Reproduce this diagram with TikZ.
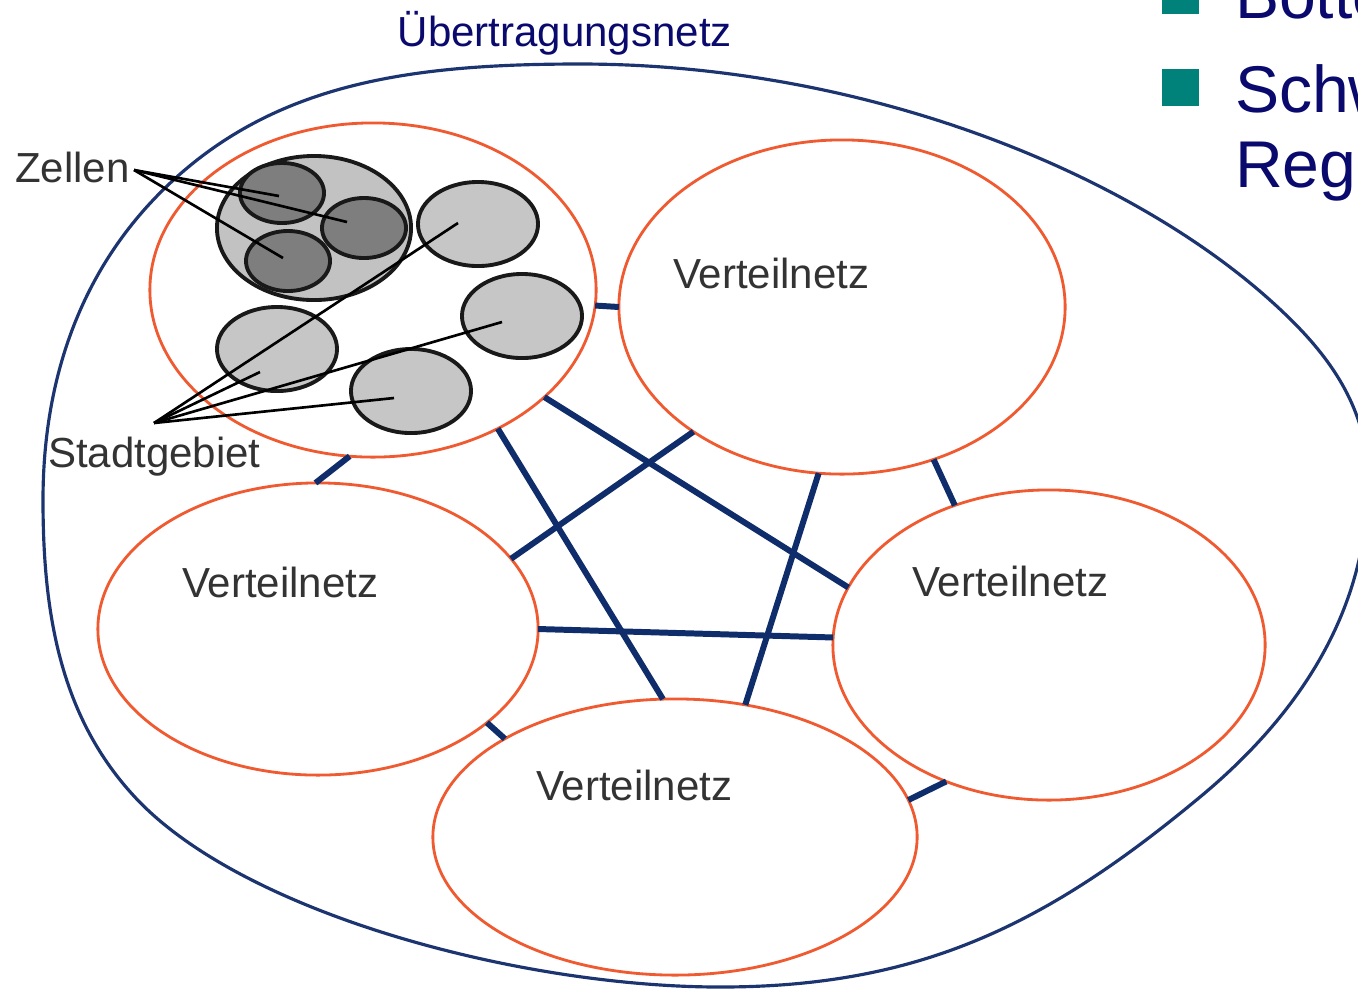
\documentclass[tikz,border=0pt]{standalone}
\usepackage{fontspec}
\setmainfont{Liberation Sans}
\usetikzlibrary{shapes.geometric,calc}
\definecolor{netred}{HTML}{F05A30}
\definecolor{outerblue}{HTML}{1C3470}
\definecolor{linkblue}{HTML}{0F2D6B}
\definecolor{navytext}{HTML}{0A0A6E}
\definecolor{bullteal}{HTML}{00827A}
\definecolor{labelgray}{HTML}{333333}
\definecolor{citygray}{HTML}{C2C2C2}
\definecolor{celldark}{HTML}{7E7E7E}
\definecolor{celllight}{HTML}{C6C6C6}
\newcommand\lblfont{\fontsize{11.95pt}{14pt}\selectfont}
\newcommand\bigfont{\fontsize{18.8pt}{22pt}\selectfont}
\begin{document}
\begin{tikzpicture}[x=0.01cm,y=-0.01cm,
  vnet/.style={ellipse, draw=netred, fill=white, line width=0.8pt, inner sep=0pt, outer sep=0pt},
  cellbase/.style={ellipse, draw=black!90, line width=1.1pt, inner sep=0pt, outer sep=0pt,
     minimum width=0.84cm, minimum height=0.60cm},
  darkcell/.style={cellbase, fill=celldark},
  lightcell/.style={cellbase, fill=celllight, minimum width=1.20cm, minimum height=0.84cm},
  citycell/.style={cellbase, fill=citygray, minimum width=1.94cm, minimum height=1.44cm},
  link/.style={draw=linkblue, line width=1.7pt},
  pointer/.style={draw=black, line width=0.75pt},
  lbl/.style={anchor=base west, inner sep=0pt, outer sep=0pt, text=labelgray, font=\lblfont},
  bigtext/.style={anchor=base west, inner sep=0pt, outer sep=0pt, text=navytext, font=\bigfont}]
\useasboundingbox[fill=white] (0,0) rectangle (1358,990);

% outer transmission network boundary
\draw[outerblue, line width=0.9pt]
  (580,64) .. controls (880,64) and (1162,185) .. (1300,329)
  .. controls (1341,372) and (1368,420) .. (1368,480)
  .. controls (1368,610) and (1300,714) .. (1200,797)
  .. controls (1046,925) and (920,987) .. (720,987)
  .. controls (520,987) and (240,913) .. (133,795)
  .. controls (59,714) and (43,610) .. (43,500)
  .. controls (43,380) and (80,270) .. (166,187)
  .. controls (274,83) and (410,64) .. (580,64) -- cycle;

\node[anchor=base west, inner sep=0pt, text=navytext, font=\lblfont] (ueb) at (397,46) {Übertragungsnetz};

% distribution networks
\node[vnet, minimum width=4.46cm, minimum height=3.34cm] (tl) at (373,290) {};
\node[vnet, minimum width=4.46cm, minimum height=3.34cm] (tr) at (842,307) {};
\node[vnet, minimum width=4.40cm, minimum height=2.92cm] (lv) at (318,629) {};
\node[vnet, minimum width=4.32cm, minimum height=3.10cm] (rv) at (1049,645) {};
\node[vnet, minimum width=4.84cm, minimum height=2.76cm] (bv) at (675,837) {};

% links
\draw[link] (tl.-4.6) -- (tr.180);
\draw[link] (tl.262) -- (lv.91);
\draw[link] (tl.-32.6) -- (rv.164.7);
\draw[link] (tl.-48.2) -- (bv.95);
\draw[link] (tr.220) -- (lv.20.7);
\draw[link] (tr.262.5) -- (bv.62.4);
\draw[link] (tr.301.8) -- (rv.124.6);
\draw[link] (lv.-0.8) -- (rv.178.7);
\draw[link] (lv.-29.9) -- (bv.150.3);
\draw[link] (rv.233.4) -- (bv.9);

% labels
\node[lbl] (ltr) at (673,288) {Verteilnetz};
\node[lbl] (llv) at (182,597) {Verteilnetz};
\node[lbl] (lrv) at (912,596) {Verteilnetz};
\node[lbl] (lbv) at (536,800) {Verteilnetz};

% city area with cells
\node[citycell] (city) at (314,228) {};
\node[darkcell] (c1) at (282,193) {};
\node[darkcell] (c2) at (364,228) {};
\node[darkcell] (c3) at (288,261) {};
\node[lightcell] (ca) at (478,224) {};
\node[lightcell] (cb) at (522,316) {};
\node[lightcell] (cc) at (277,349) {};
\node[lightcell] (cd) at (411,391) {};

\node[lbl] (zellen) at (15,182) {Zellen};
\node[lbl] (stadt) at (48,467) {Stadtgebiet};
\coordinate (ztip) at (134,170);
\coordinate (stip) at (154,423);

\draw[pointer] (ztip) -- ($(c1)+(-3,3)$);
\draw[pointer] (ztip) -- ($(c2)+(-17,-6)$);
\draw[pointer] (ztip) -- ($(c3)+(-5,-3)$);
\draw[pointer] (stip) -- ($(ca)+(-20,-1)$);
\draw[pointer] (stip) -- ($(cc)+(-17,23)$);
\draw[pointer] (stip) -- ($(cb)+(-20,6)$);
\draw[pointer] (stip) -- ($(cd)+(-17,7)$);

% slide text at top right
\fill[bullteal] (1162,-25) rectangle (1199,14);
\fill[bullteal] (1162,69) rectangle (1199,106);
\node[bigtext] (b1) at (1235,18) {Botto};
\node[bigtext] (b2) at (1235,112) {Schw};
\node[bigtext] (b3) at (1235,187) {Rege};
\end{tikzpicture}
\end{document}
